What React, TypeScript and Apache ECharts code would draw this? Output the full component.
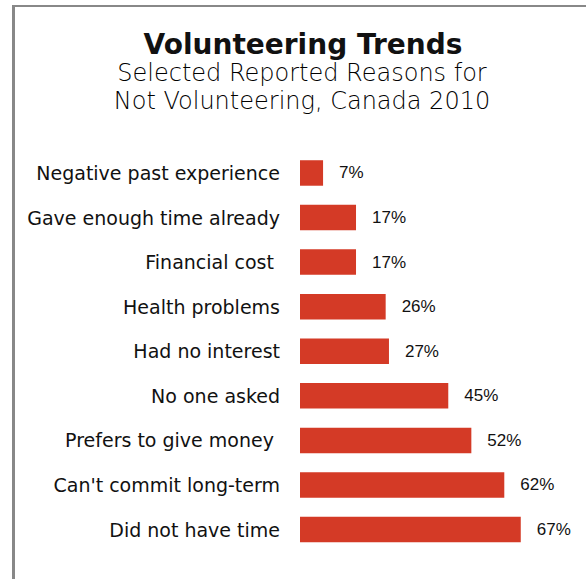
import React, { useEffect, useRef } from "react";
import * as echarts from "echarts";

const categories = [
  "Did not have time",
  "Can't commit long-term",
  "Prefers to give money ",
  "No one asked",
  "Had no interest",
  "Health problems",
  "Financial cost ",
  "Gave enough time already",
  "Negative past experience",
];
const values = [67, 62, 52, 45, 27, 26, 17, 17, 7];

const titleText = "Volunteering Trends";
const subtitleLines = ["Selected Reported Reasons for", "Not Volunteering, Canada 2010"];

export default function App() {
  const ref = useRef<HTMLDivElement>(null);
  useEffect(() => {
    if (!ref.current) return;
    const chart = echarts.init(ref.current, null, { renderer: "svg" });
    chart.setOption({
      animation: false,
      backgroundColor: "#ffffff",
      graphic: [
        { type: "line", shape: { x1: 13.5, y1: 6, x2: 13.5, y2: 579 }, style: { stroke: "#888888", lineWidth: 3 } },
        { type: "line", shape: { x1: 12, y1: 6, x2: 586, y2: 6 }, style: { stroke: "#888888", lineWidth: 2 } },
        {
          type: "text",
          x: 303,
          y: 44,
          style: {
            text: titleText,
            font: "bold 28px 'DejaVu Sans', sans-serif",
            fill: "#111111",
            textAlign: "center",
            textVerticalAlign: "middle",
          },
        },
        {
          type: "text",
          x: 302,
          y: 73,
          style: {
            text: subtitleLines[0],
            font: "200 24px 'DejaVu Sans', sans-serif",
            fill: "#000000",
            textAlign: "center",
            textVerticalAlign: "middle",
          },
        },
        {
          type: "text",
          x: 302,
          y: 101,
          style: {
            text: subtitleLines[1],
            font: "200 24px 'DejaVu Sans', sans-serif",
            fill: "#000000",
            textAlign: "center",
            textVerticalAlign: "middle",
          },
        },
      ],
      grid: { left: 300, right: 22.4, top: 150.7, bottom: 27.2, containLabel: false },
      xAxis: {
        type: "value",
        min: 0,
        max: 80,
        show: false,
      },
      yAxis: {
        type: "category",
        data: categories,
        axisLine: { show: false },
        axisTick: { show: false },
        axisLabel: {
          margin: 20,
          fontFamily: "'DejaVu Sans', Verdana, sans-serif",
          fontSize: 19,
          color: "#111111",
        },
      },
      series: [
        {
          type: "bar",
          data: values,
          barWidth: 25.5,
          itemStyle: { color: "#d43a26" },
          label: {
            show: true,
            position: "right",
            distance: 16,
            formatter: "{c}%",
            fontFamily: "'Liberation Sans', Arial, sans-serif",
            fontSize: 17,
            color: "#111111",
          },
        },
      ],
    });
    return () => chart.dispose();
  }, []);
  return (
    <div
      ref={ref}
      style={{ position: "absolute", left: 0, top: 0, width: 586, height: 579 }}
    />
  );
}
